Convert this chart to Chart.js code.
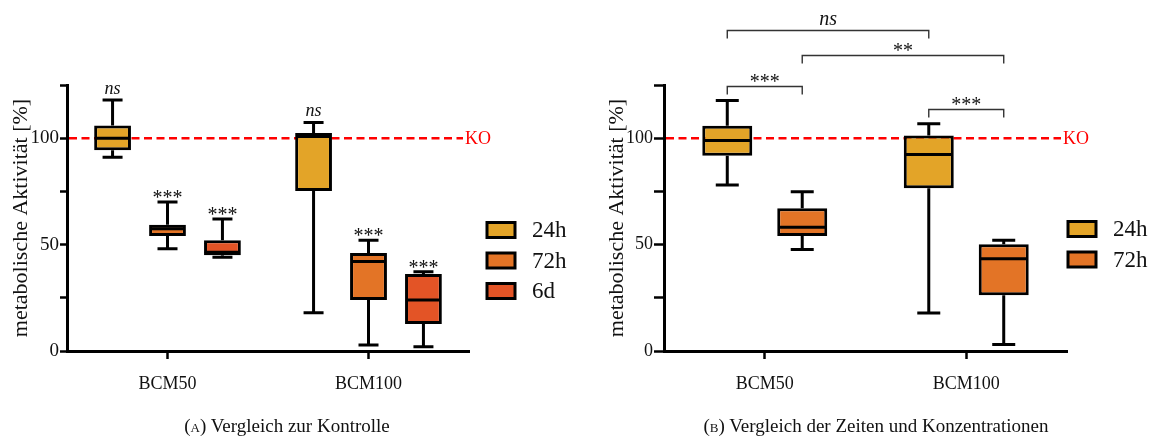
<!DOCTYPE html>
<html>
<head>
<meta charset="utf-8">
<script src="https://cdn.jsdelivr.net/npm/chart.js@4.4.0/dist/chart.umd.min.js"></script>
<style>
  body { margin: 0; background: #fff; width: 1154px; height: 440px; position: relative; overflow: hidden; }
  canvas { position: absolute; top: 0; }
  #chartA { left: 0; }
  #chartB { left: 577px; }
  .cap { position: absolute; top: 415px; font-family: 'Liberation Serif', 'Times New Roman', serif; font-size: 19px; color: #111; text-align: center; white-space: nowrap; }
  .sc { font-variant: small-caps; }
</style>
</head>
<body>
<canvas id="chartA" width="577" height="440"></canvas>
<canvas id="chartB" width="577" height="440"></canvas>
<div class="cap" style="left:137px;width:300px">(<span class="sc">a</span>) Vergleich zur Kontrolle</div>
<div class="cap" style="left:676px;width:400px">(<span class="sc">b</span>) Vergleich der Zeiten und Konzentrationen</div>
<script>
// categories
const categories = ['BCM50', 'BCM100'];
const seriesA = ['24h', '72h', '6d'];
const seriesB = ['24h', '72h'];

// box summaries: [min, q1, median, q3, max] per category
const a24h = [[91, 94.3, 100, 106, 118], [18, 75.2, 100.8, 102.4, 107.4]];
const a72h = [[48, 54, 57.4, 59.3, 70], [2.8, 24, 42, 46, 52]];
const a6d = [[44, 45, 46.4, 52, 62], [2, 12.7, 24, 36.2, 37.3]];

const b24h = [[78, 91.7, 98.9, 105.8, 117.7], [17.8, 76.5, 92.3, 101.3, 106.8]];
const b72h = [[47.7, 54, 58.2, 67.1, 74.8], [3, 26.2, 43.4, 50.2, 52]];

// significance vs control (chart A)
const sigA = [['ns', 'ns'], ['***', '***'], ['***', '***']];

// comparison brackets (chart B): [series, category] pairs, level, label
const bracketFrom = [[0, 0], [0, 0], [1, 0], [0, 1]];
const bracketTo = [[1, 0], [0, 1], [1, 1], [1, 1]];
const bracketLevel = [124.3, 151, 139.2, 113.6];
const bracketLabel = ['***', 'ns', '**', '***'];

const controlValue = 100;
const yTicks = [0, 50, 100];

const colors = ['#E3A428', '#E37426', '#E35426'];
const serif = "'Liberation Serif', 'Times New Roman', serif";

Chart.defaults.font.family = serif;
Chart.defaults.color = '#111';

function boxPlugin(opt) {
    return {
        id: 'boxes' + opt.id,
        beforeDatasetsDraw(chart) {
            const ctx = chart.ctx, y = chart.scales.y, a = chart.chartArea;
            const py = y.getPixelForValue(controlValue);
            ctx.save();
            ctx.strokeStyle = '#FF0000';
            ctx.lineWidth = 2.6;
            ctx.setLineDash([8, 4.5]);
            ctx.beginPath();
            ctx.moveTo(a.left + 2, py);
            ctx.lineTo(a.right - 6, py);
            ctx.stroke();
            ctx.setLineDash([]);
            ctx.fillStyle = '#FF0000';
            ctx.font = '18px ' + serif;
            ctx.textBaseline = 'middle';
            ctx.fillText('KO', a.right - 4, py + 1);
            ctx.restore();
        },
        afterDatasetsDraw(chart) {
            const ctx = chart.ctx, y = chart.scales.y;
            ctx.save();
            ctx.strokeStyle = '#000';
            ctx.lineWidth = 3;
            opt.boxes.forEach((series, d) => {
                const meta = chart.getDatasetMeta(d);
                series.forEach((s, i) => {
                    const el = meta.data[i].getProps(['x', 'width'], true);
                    const x = el.x, w = el.width;
                    const lo = y.getPixelForValue(s[0]), q1 = y.getPixelForValue(s[1]);
                    const md = y.getPixelForValue(s[2]), q3 = y.getPixelForValue(s[3]);
                    const hi = y.getPixelForValue(s[4]);
                    ctx.beginPath();
                    ctx.moveTo(x, q3); ctx.lineTo(x, hi);
                    ctx.moveTo(x - opt.cap / 2, hi); ctx.lineTo(x + opt.cap / 2, hi);
                    ctx.moveTo(x, q1); ctx.lineTo(x, lo);
                    ctx.moveTo(x - opt.cap / 2, lo); ctx.lineTo(x + opt.cap / 2, lo);
                    ctx.moveTo(x - w / 2 + 1.5, md); ctx.lineTo(x + w / 2 - 1.5, md);
                    ctx.stroke();
                    if (opt.sig) {
                        ctx.fillStyle = '#111';
                        ctx.textAlign = 'center';
                        ctx.textBaseline = 'alphabetic';
                        const t = opt.sig[d][i];
                        if (t === 'ns') {
                            ctx.font = 'italic 18px ' + serif;
                            ctx.fillText(t, x, hi - 6);
                        } else {
                            ctx.font = '20px ' + serif;
                            ctx.fillText(t, x, hi + 2);
                        }
                    }
                });
            });
            ctx.restore();
        },
        afterDraw(chart) {
            const ctx = chart.ctx, y = chart.scales.y;
            ctx.save();
            // brackets
            if (opt.brackets) {
                ctx.strokeStyle = '#333';
                ctx.lineWidth = 1.4;
                ctx.fillStyle = '#111';
                ctx.textAlign = 'center';
                bracketFrom.forEach((f, k) => {
                    const e1 = chart.getDatasetMeta(f[0]).data[f[1]];
                    const e2 = chart.getDatasetMeta(bracketTo[k][0]).data[bracketTo[k][1]];
                    const py = Math.round(y.getPixelForValue(bracketLevel[k])) + 0.5;
                    ctx.beginPath();
                    ctx.moveTo(e1.x, py + 8); ctx.lineTo(e1.x, py);
                    ctx.lineTo(e2.x, py); ctx.lineTo(e2.x, py + 8);
                    ctx.stroke();
                    const t = bracketLabel[k];
                    const mx = (e1.x + e2.x) / 2;
                    if (t === 'ns') {
                        ctx.font = 'italic 20px ' + serif;
                        ctx.fillText(t, mx, py - 6);
                    } else {
                        ctx.font = '20px ' + serif;
                        ctx.fillText(t, mx, py + 1);
                    }
                });
            }
            // legend
            ctx.textAlign = 'left';
            ctx.textBaseline = 'middle';
            ctx.font = '23px ' + serif;
            opt.series.forEach((name, d) => {
                const cy = opt.legendY + d * 30.5;
                ctx.fillStyle = colors[d];
                ctx.fillRect(opt.legendX, cy - 7.5, 28, 15);
                ctx.strokeStyle = '#000';
                ctx.lineWidth = 3;
                ctx.strokeRect(opt.legendX, cy - 7.5, 28, 15);
                ctx.fillStyle = '#111';
                ctx.fillText(name, opt.legendX + 45, cy + 1);
            });
            ctx.restore();
        }
    };
}

function makeChart(opt) {
    const datasets = opt.boxes.map((series, d) => ({
        label: opt.series[d],
        data: series.map(s => [s[1], s[3]]),
        backgroundColor: colors[d],
        borderColor: '#000',
        borderWidth: 3,
        borderSkipped: false,
        barPercentage: opt.barPct,
        categoryPercentage: opt.catPct
    }));
    return new Chart(opt.id, {
        type: 'bar',
        data: { labels: categories, datasets: datasets },
        options: {
            responsive: false,
            animation: false,
            layout: { padding: { left: opt.padLeft, right: opt.padRight, top: 85, bottom: 49 } },
            plugins: { legend: { display: false }, tooltip: { enabled: false } },
            scales: {
                x: {
                    grid: { display: true, drawOnChartArea: false, offset: false, tickLength: 8, tickWidth: 2.5, tickColor: '#000' },
                    border: { display: true, color: '#000', width: 3 },
                    ticks: { font: { size: 18 }, color: '#111', padding: 14 },
                    afterFit: s => { s.height = 40; }
                },
                y: {
                    min: 0,
                    max: 125,
                    grid: { display: true, drawOnChartArea: false, tickLength: opt.tickLen, tickWidth: 2.5, tickColor: '#000' },
                    border: { display: true, color: '#000', width: 3 },
                    ticks: {
                        stepSize: 25,
                        padding: 1,
                        font: { size: opt.tickSize },
                        color: '#111',
                        callback: v => yTicks.includes(v) ? v : ''
                    },
                    title: { display: true, text: 'metabolische Aktivität [%]', font: { size: 22 }, color: '#111', padding: { top: 8, bottom: 0 } },
                    afterFit: s => { s.width = opt.axisW; }
                }
            }
        },
        plugins: [boxPlugin(opt)]
    });
}

makeChart({
    id: 'chartA', boxes: [a24h, a72h, a6d], series: seriesA, sig: sigA,
    padLeft: 0, padRight: 108, axisW: 67, tickLen: 7, tickSize: 19,
    catPct: 0.82, barPct: 0.67, cap: 20, legendX: 487, legendY: 230
});
makeChart({
    id: 'chartB', boxes: [b24h, b72h], series: seriesB, brackets: true,
    padLeft: 19, padRight: 87, axisW: 68, tickLen: 10, tickSize: 18,
    catPct: 0.744, barPct: 0.667, cap: 23, legendX: 491, legendY: 229
});
</script>
</body>
</html>
